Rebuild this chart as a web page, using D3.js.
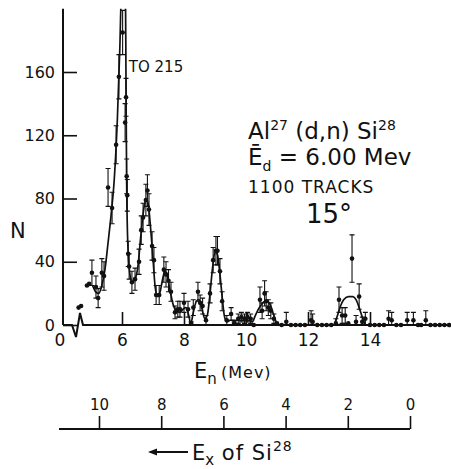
<!DOCTYPE html>
<style>
    body { margin: 0; background: #fff; }
    text { font-family: "DejaVu Sans", sans-serif; fill: #111; }
    .axis .domain { display: none; }
    .axis line { stroke: #111; stroke-width: 1.6; }
    .axis text { font-size: 16px; font-family: "DejaVu Sans", sans-serif; }
</style>
<svg width="451" height="469"></svg>
<script src="https://d3js.org/d3.v7.min.js"></script>
<script>

    // neutron energy (Mev), counts, error half-length
    var enVals = [4.60, 4.68, 4.87, 4.94, 5.03, 5.16, 5.23, 5.35, 5.42, 5.55, 5.68, 5.81, 5.90, 6.02, 6.10, 6.13, 6.15, 6.17,
        6.20, 6.23, 6.32, 6.42, 6.55, 6.62, 6.68, 6.77, 6.82, 6.87, 6.97, 7.03, 7.10, 7.20, 7.35, 7.42, 7.50, 7.58,
        7.71, 7.80, 7.87, 8.00, 8.13, 8.23, 8.30, 8.45, 8.52, 8.60, 8.71, 8.84, 8.94, 9.03, 9.08, 9.16, 9.23, 9.38,
        9.52, 9.62, 9.75, 9.85, 9.95, 10.05, 10.15, 10.25, 10.45, 10.52, 10.60, 10.65, 10.72, 10.80, 10.90, 11.00,
        11.15, 11.30, 11.45, 11.60, 11.75, 11.90, 12.10, 12.15, 12.30, 12.45, 12.60, 12.75, 12.90, 13.00, 13.10,
        13.20, 13.30, 13.42, 13.55, 13.65, 13.75, 13.85, 14.00, 14.15, 14.30, 14.45, 14.60, 14.70, 14.85, 15.00,
        15.20, 15.40, 15.55, 15.65, 15.80, 15.95, 16.10, 16.25, 16.40, 16.55];
    var nVals = [11, 12, 25, 26, 33, 24, 17, 33, 31, 87, 74, 114, 157, 185, 128, 144, 94, 82,
        45, 37, 27, 29, 40, 60, 68, 79, 85, 73, 50, 41, 19, 19, 35, 32, 28, 21,
        8, 10, 10, 14, 10, 1, 11, 21, 14, 12, 3, 20, 41, 47, 47, 34, 15, 3,
        7, 1, 4, 5, 4, 5, 4, 0, 16, 9, 20, 15, 11, 9, 4, 1,
        0, 2, 0, 0, 0, 0, 3, 2, 0, 0, 0, 0, 1, 16, 6,
        6, 1, 42, 2, 18, 2, 4, 0, 0, 0, 0, 4, 3, 0, 0,
        3, 3, 0, 0, 3, 0, 0, 0, 0, 0];
    var errVals = [0, 0, 0, 0, 8, 7, 6, 9, 9, 12, 10, 12, 14, 14, 12, 12, 11, 10,
        8, 8, 7, 7, 8, 9, 9, 10, 10, 10, 9, 8, 6, 6, 8, 8, 7, 6,
        4, 5, 5, 6, 5, 1, 5, 6, 5, 5, 3, 6, 8, 9, 9, 8, 6, 3,
        4, 1, 3, 3, 3, 3, 3, 0, 8, 5, 8, 6, 5, 5, 3, 0,
        0, 6, 0, 0, 0, 0, 6, 5, 0, 0, 0, 0, 3, 8, 5,
        5, 0, 15, 4, 8, 3, 4, 0, 0, 0, 0, 5, 5, 0, 0,
        5, 5, 0, 0, 6, 0, 0, 0, 0, 0];

    // hand-drawn fitted curve
    var fitMainE = [5.05, 5.15, 5.25, 5.35, 5.45, 5.55, 5.65, 5.75, 5.85, 5.93, 5.99, 6.11, 6.13, 6.15, 6.19, 6.25,
        6.32, 6.42, 6.52, 6.60, 6.70, 6.78, 6.85, 6.92, 7.00, 7.07, 7.15, 7.23, 7.30, 7.38, 7.45, 7.55, 7.65, 7.75,
        7.87, 7.97, 8.06, 8.14, 8.22, 8.30, 8.40, 8.48, 8.57, 8.67, 8.75, 8.83, 8.92, 9.00, 9.07, 9.15, 9.23, 9.30,
        9.38, 9.50, 9.70, 9.90, 10.10, 10.20, 10.30, 10.40, 10.50, 10.60, 10.70, 10.80, 10.90, 11.00, 11.10];
    var fitMainN = [25, 21, 20, 25, 35, 52, 70, 92, 130, 175, 215, 215, 150, 90, 50, 33,
        27, 29, 38, 55, 73, 80, 76, 62, 42, 24, 18, 21, 28, 34, 32, 22, 13, 9,
        8, 10, 11, 7, 1, 8, 15, 16, 11, 4, 6, 18, 36, 46, 45, 34, 18, 6,
        2, 3, 3, 3, 3, 2, 6, 10, 13, 15, 15, 12, 6, 1, 0];
    var fit13E = [12.85, 12.95, 13.05, 13.15, 13.30, 13.45, 13.55, 13.65, 13.75, 13.85];
    var fit13N = [0, 6, 12, 16, 18, 18, 16, 11, 5, 0];

    var nTicks = [0, 40, 80, 120, 160];
    var enTicks = [6, 8, 10, 12, 14];
    var exTicks = [10, 8, 6, 4, 2, 0];

    var svg = d3.select("svg"),
        width = +svg.attr("width"),
        height = +svg.attr("height");

    var x = d3.scaleLinear().domain([6, 14]).range([122, 370]);
    var y = d3.scaleLinear().domain([0, 160]).range([325, 72]);
    var ex = d3.scaleLinear().domain([0, 10]).range([410, 99]);

    var x0 = 63, y0 = y(0), yTop = y(200);

    svg.append("rect").attr("width", width).attr("height", height).attr("fill", "#fff");

    svg.append("defs").append("clipPath").attr("id", "plot")
        .append("rect").attr("x", x0).attr("y", yTop).attr("width", width - x0).attr("height", y0 - yTop + 4);

    // y axis
    svg.append("g")
        .attr("class", "axis")
        .attr("transform", "translate(" + x0 + ",0)")
        .call(d3.axisLeft(y).tickValues(nTicks).tickSize(-14).tickPadding(8).tickFormat(d3.format("d")));
    svg.append("line")
        .attr("x1", x0).attr("x2", x0).attr("y1", y0).attr("y2", yTop)
        .attr("stroke", "#111").attr("stroke-width", 2);

    // x axis, with break near the origin
    svg.append("g")
        .attr("class", "axis")
        .attr("transform", "translate(0," + y0 + ")")
        .call(d3.axisBottom(x).tickValues(enTicks).tickSize(-13).tickPadding(9))
        .selectAll("text").style("font-size", "17px");
    svg.append("path")
        .attr("d", d3.line()([[x0, y0], [x0 + 9, y0], [x0 + 13, y0 + 12], [x0 + 17, y0 - 12], [x0 + 20, y0], [width, y0]]))
        .attr("fill", "none").attr("stroke", "#111").attr("stroke-width", 2);
    svg.append("text")
        .attr("x", x0 - 3).attr("y", y0 + 21)
        .attr("text-anchor", "middle").style("font-size", "17px")
        .text("0");

    var plot = svg.append("g").attr("clip-path", "url(#plot)");

    var line = d3.line()
        .curve(d3.curveMonotoneX)
        .x(function(d) { return x(d[0]); })
        .y(function(d) { return y(d[1]); });

    plot.append("path")
        .datum(d3.zip(fitMainE, fitMainN))
        .attr("fill", "none").attr("stroke", "#111").attr("stroke-width", 1.7)
        .attr("d", line);
    plot.append("path")
        .datum(d3.zip(fit13E, fit13N))
        .attr("fill", "none").attr("stroke", "#111").attr("stroke-width", 1.7)
        .attr("d", line);

    var pts = d3.zip(enVals, nVals, errVals);

    var bars = plot.append("g").attr("stroke", "#111").attr("stroke-width", 1.1)
        .selectAll("g").data(pts.filter(function(d) { return d[2] > 0; }))
        .enter().append("g");
    bars.append("line")
        .attr("x1", function(d) { return x(d[0]); }).attr("x2", function(d) { return x(d[0]); })
        .attr("y1", function(d) { return y(Math.max(0, d[1] - d[2])); })
        .attr("y2", function(d) { return y(d[1] + d[2]); });
    bars.append("line")
        .attr("x1", function(d) { return x(d[0]) - 2.5; }).attr("x2", function(d) { return x(d[0]) + 2.5; })
        .attr("y1", function(d) { return y(d[1] + d[2]); })
        .attr("y2", function(d) { return y(d[1] + d[2]); });
    bars.append("line")
        .attr("x1", function(d) { return x(d[0]) - 2.5; }).attr("x2", function(d) { return x(d[0]) + 2.5; })
        .attr("y1", function(d) { return y(Math.max(0, d[1] - d[2])); })
        .attr("y2", function(d) { return y(Math.max(0, d[1] - d[2])); });

    plot.append("g").attr("fill", "#111")
        .selectAll("circle").data(pts)
        .enter().append("circle")
        .attr("cx", function(d) { return x(d[0]); })
        .attr("cy", function(d) { return y(d[1]); })
        .attr("r", 2.3);

    // annotations
    svg.append("text")
        .attr("x", x(6.22)).attr("y", y(160))
        .style("font-size", "15px")
        .text("TO 215");

    svg.append("text")
        .attr("x", 10).attr("y", y(55))
        .style("font-size", "21px")
        .text("N");

    var title = svg.append("g").attr("transform", "translate(248,0)");
    var t1 = title.append("text").attr("y", 139).style("font-size", "23px");
    t1.append("tspan").text("Al");
    t1.append("tspan").attr("dy", -9).style("font-size", "14px").text("27");
    t1.append("tspan").attr("dy", 9).text(" (d,n) Si");
    t1.append("tspan").attr("dy", -9).style("font-size", "14px").text("28");

    var t2 = title.append("text").attr("y", 165).style("font-size", "23px");
    t2.append("tspan").text("Ē");
    t2.append("tspan").attr("dy", 6).style("font-size", "14px").text("d");
    t2.append("tspan").attr("dy", -6).text(" = 6.00 Mev");

    title.append("text").attr("y", 193)
        .style("font-size", "17px").style("letter-spacing", "1px")
        .text("1100 TRACKS");

    title.append("text").attr("x", 58).attr("y", 223)
        .style("font-size", "26px")
        .text("15°");

    // x axis title
    var xt = svg.append("text").attr("x", 194).attr("y", 378).style("font-size", "21px");
    xt.append("tspan").text("E");
    xt.append("tspan").attr("dy", 6).style("font-size", "15px").text("n");
    xt.append("tspan").attr("x", 221).attr("dy", -6).style("font-size", "16px").style("letter-spacing", "1px").text("(Mev)");

    // excitation energy scale
    var exY = 429;
    svg.append("g")
        .attr("class", "axis")
        .attr("transform", "translate(0," + exY + ")")
        .call(d3.axisTop(ex).tickValues(exTicks).tickSize(13).tickPadding(6))
        .selectAll("text").style("font-size", "15px");
    svg.append("line")
        .attr("x1", 59).attr("x2", ex(0)).attr("y1", exY).attr("y2", exY)
        .attr("stroke", "#111").attr("stroke-width", 1.8);

    svg.append("path")
        .attr("d", "M148," + 452 + "l9,-3.5v7z")
        .attr("fill", "#111");
    svg.append("line")
        .attr("x1", 150).attr("x2", 188).attr("y1", 452).attr("y2", 452)
        .attr("stroke", "#111").attr("stroke-width", 1.8);

    var et = svg.append("text").attr("x", 192).attr("y", 460).style("font-size", "21px");
    et.append("tspan").text("E");
    et.append("tspan").attr("dy", 5).style("font-size", "15px").text("x");
    et.append("tspan").attr("dy", -5).style("letter-spacing", "1px").text(" of Si");
    et.append("tspan").attr("dy", -9).style("font-size", "14px").style("letter-spacing", "1px").text("28");

</script>
